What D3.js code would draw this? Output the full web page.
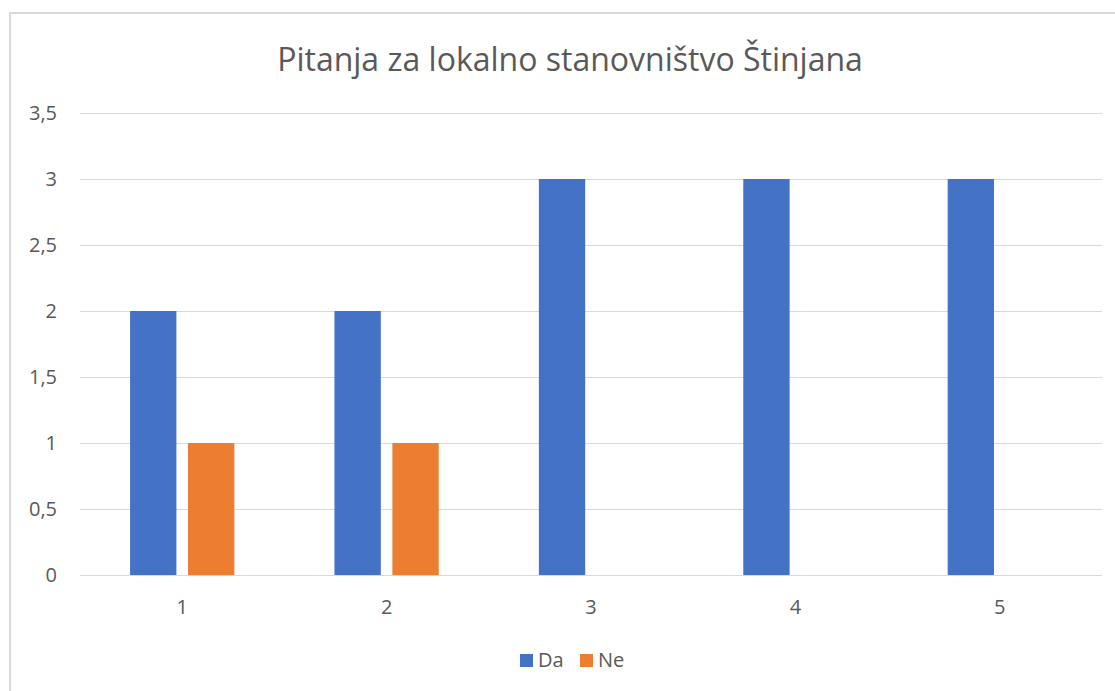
<!doctype html>
<html>
<head>
<meta charset="utf-8">
<script src="https://cdnjs.cloudflare.com/ajax/libs/d3/7.8.5/d3.min.js"></script>
<style>
  body { margin: 0; background: #fff; }
  text { font-family: "Open Sans", "Segoe UI", sans-serif; fill: #595959; }
</style>
</head>
<body>
<script>
// data
var categories = ["1", "2", "3", "4", "5"];
var seriesNames = ["Da", "Ne"];
var daValues = [2, 2, 3, 3, 3];
var neValues = [1, 1, null, null, null];
var yTicks = [0, 0.5, 1, 1.5, 2, 2.5, 3, 3.5];
var colors = ["#4472c4", "#ed7d31"];

var W = 1115, H = 691;
var plot = {left: 80, right: 1102, top: 113, bottom: 575};

var svg = d3.select("body").append("svg")
  .attr("width", W).attr("height", H);

// chart frame
svg.append("rect")
  .attr("x", 10).attr("y", 13)
  .attr("width", 1120).attr("height", 700)
  .attr("fill", "#fff")
  .attr("stroke", "#d9d9d9").attr("stroke-width", 2);

svg.append("text")
  .attr("x", 570).attr("y", 71)
  .attr("text-anchor", "middle")
  .style("font-size", "32px")
  .text("Pitanja za lokalno stanovništvo Štinjana");

var y = d3.scaleLinear().domain([0, 3.5]).range([plot.bottom, plot.top]);
var x = d3.scaleBand().domain(categories).range([plot.left, plot.right])
  .paddingInner(0.49).paddingOuter(0.245);
var x1 = d3.scaleBand().domain(seriesNames).range([0, x.bandwidth()]).paddingInner(0.2);

// gridlines
svg.append("g").selectAll("line").data(yTicks).enter().append("line")
  .attr("x1", plot.left).attr("x2", plot.right)
  .attr("y1", d => Math.round(y(d)) + 0.5).attr("y2", d => Math.round(y(d)) + 0.5)
  .attr("stroke", "#d9d9d9").attr("stroke-width", 1);

// y labels
var fmt = d => String(d).replace(".", ",");
svg.append("g").selectAll("text").data(yTicks).enter().append("text")
  .attr("x", 57).attr("y", d => y(d))
  .attr("dy", "0.35em")
  .attr("text-anchor", "end")
  .style("font-size", "20px")
  .text(fmt);

// bars
var rows = categories.map((c, i) => ({cat: c, vals: [daValues[i], neValues[i]]}));
var groups = svg.append("g").selectAll("g").data(rows).enter().append("g")
  .attr("transform", d => "translate(" + x(d.cat) + ",0)");
groups.selectAll("rect")
  .data(d => d.vals.map((v, j) => ({name: seriesNames[j], v: v, j: j})).filter(e => e.v != null))
  .enter().append("rect")
  .attr("x", d => x1(d.name))
  .attr("y", d => y(d.v))
  .attr("width", x1.bandwidth())
  .attr("height", d => y(0) - y(d.v))
  .attr("fill", d => colors[d.j]);

// x labels
svg.append("g").selectAll("text").data(categories).enter().append("text")
  .attr("x", d => x(d) + x.bandwidth() / 2)
  .attr("y", 614)
  .attr("text-anchor", "middle")
  .style("font-size", "20px")
  .text(d => d);

// legend
var legend = svg.append("g").attr("transform", "translate(520,660)");
var lx = [0, 60];
seriesNames.forEach(function (s, i) {
  var g = legend.append("g").attr("transform", "translate(" + lx[i] + ",0)");
  g.append("rect").attr("x", 0).attr("y", -6).attr("width", 13).attr("height", 13).attr("fill", colors[i]);
  g.append("text").attr("x", 18).attr("y", 0).attr("dy", "0.35em")
    .style("font-size", "20px").text(s);
});
</script>
</body>
</html>
